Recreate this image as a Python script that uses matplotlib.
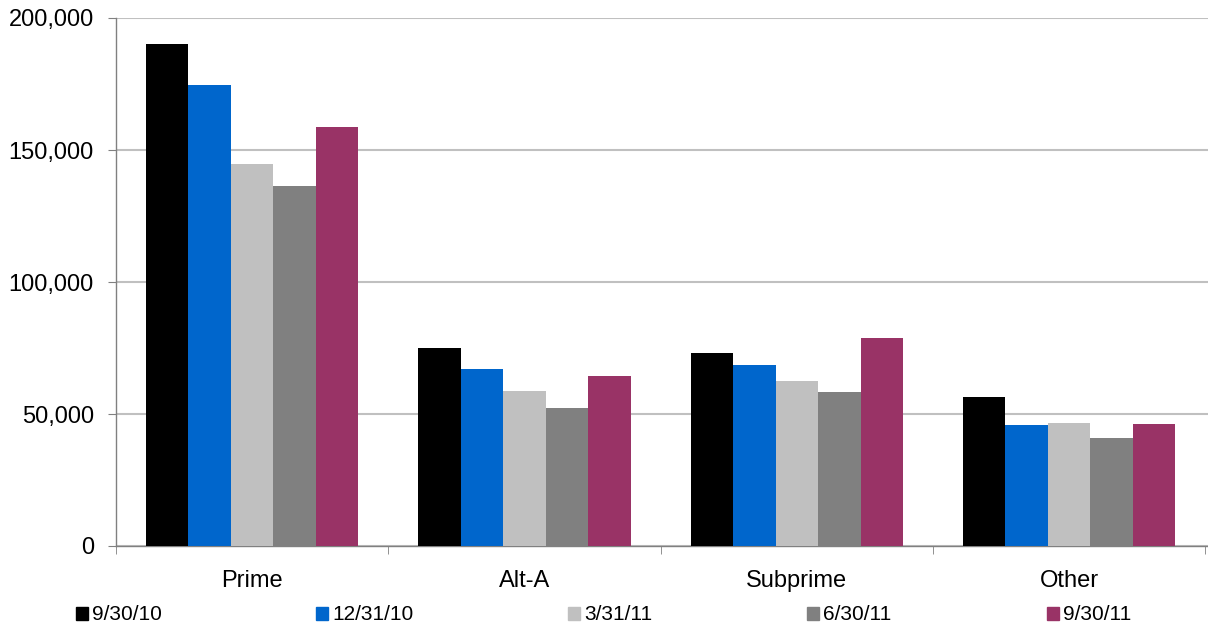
import matplotlib
matplotlib.use('Agg')
import matplotlib.pyplot as plt
import numpy as np
from matplotlib.ticker import FuncFormatter
from matplotlib.patches import Patch

categories = ['Prime', 'Alt-A', 'Subprime', 'Other']
periods = ['9/30/10', '12/31/10', '3/31/11', '6/30/11', '9/30/11']
colors = ['#000000', '#0066cc', '#c0c0c0', '#808080', '#993366']

q3_10 = [190200, 75000, 73100, 56400]
q4_10 = [174600, 67000, 68600, 45800]
q1_11 = [144700, 58700, 62500, 46600]
q2_11 = [136400, 52300, 58300, 40900]
q3_11 = [158700, 64400, 78800, 46200]
series = [q3_10, q4_10, q1_11, q2_11, q3_11]

plt.rcParams['font.family'] = ['Liberation Sans', 'DejaVu Sans']

fig = plt.figure(figsize=(12.08, 6.29), dpi=100)
ax = fig.add_axes([116/1208, 1-546/629, 1092/1208, 528/629])

x = np.arange(len(categories))
w = 0.156
for i, (vals, c, lab) in enumerate(zip(series, colors, periods)):
    ax.bar(x + (i - 2) * w, vals, width=w, color=c, label=lab, zorder=3)

ax.set_xlim(-0.5, 3.51)
ax.set_ylim(0, 200000)
ax.set_yticks(np.arange(0, 200001, 50000))
ax.yaxis.set_major_formatter(FuncFormatter(lambda v, p: f'{int(v):,}'))
ax.yaxis.grid(True, color='#c0c0c0', linewidth=1.5, zorder=0)

ax.set_xticks(x)
ax.set_xticklabels(categories)
ax.set_xticks(np.arange(-0.5, 4, 1), minor=True)
ax.tick_params(axis='x', which='major', length=0, pad=17, labelsize=17)
ax.tick_params(axis='x', which='minor', length=6, color='#808080')
ax.tick_params(axis='y', length=6, color='#808080', labelsize=17, pad=10)

for s in ['top', 'right']:
    ax.spines[s].set_visible(False)
for s in ['left', 'bottom']:
    ax.spines[s].set_color('#808080')
    ax.spines[s].set_linewidth(1)

# legend entries spaced evenly along the bottom, like the original
leg_x = [76, 316, 568, 807, 1047]
for lx, c, lab in zip(leg_x, colors, periods):
    leg = fig.legend(handles=[Patch(color=c, label=lab)], loc='center left',
                     bbox_to_anchor=(lx/1208, 1-615/629), frameon=False,
                     fontsize=15, handlelength=0.58, handleheight=0.58,
                     handletextpad=0.2, borderpad=0, borderaxespad=0)

fig.savefig('out.png', dpi=100)
